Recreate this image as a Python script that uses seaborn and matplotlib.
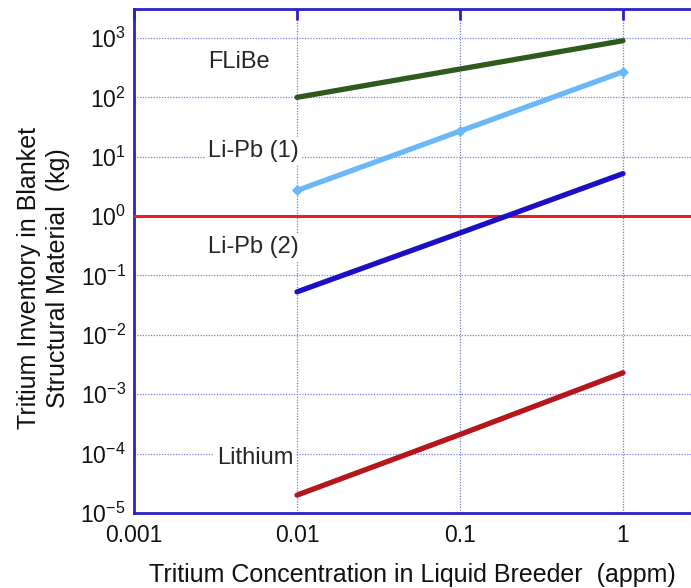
import numpy as np
import pandas as pd
import matplotlib
matplotlib.use("Agg")
import matplotlib.pyplot as plt
import matplotlib.ticker as mticker
import seaborn as sns

# Data
conc = [0.01, 0.1, 1.0]
flibe = [100, 300, 900]
lipb1 = [2.7, 27, 270]
lipb2 = [0.053, 0.52, 5.2]
lithium = [2.0e-5, 2.1e-4, 2.3e-3]
series_names = ["FLiBe", "Li-Pb (1)", "Li-Pb (2)", "Lithium"]
series_colors = ["#2e5a1c", "#6ab8f7", "#1c10c4", "#b4161b"]
x_ticks = [0.001, 0.01, 0.1, 1]
y_ticks = [1e-5, 1e-4, 1e-3, 1e-2, 1e-1, 1e0, 1e1, 1e2, 1e3]

df = pd.DataFrame({
    "x": conc * 4,
    "y": flibe + lipb1 + lipb2 + lithium,
    "series": sum([[n] * len(conc) for n in series_names], []),
})

sns.set_style("white")
plt.rcParams["font.family"] = ["Liberation Sans", "DejaVu Sans"]
plt.rcParams["axes.unicode_minus"] = False

fig = plt.figure(figsize=(6.91, 5.88), dpi=100)
ax = fig.add_axes([134 / 691, 1 - 513 / 588, 652 / 691, 504 / 588])

sns.lineplot(data=df, x="x", y="y", hue="series", palette=series_colors,
             hue_order=series_names, linewidth=3.8, legend=False, ax=ax,
             zorder=4)
# diamond markers on Li-Pb (1)
sub = df[df.series == "Li-Pb (1)"]
ax.scatter(sub.x, sub.y, marker="D", s=22, color="#6ab8f7", zorder=5)

ax.axhline(1.0, color="#ee1c24", linewidth=2.2, zorder=3)

ax.set_xscale("log")
ax.set_yscale("log")
ax.set_xlim(0.001, 10)
ax.set_ylim(1e-5, 10 ** 3.488)

ax.xaxis.set_major_locator(mticker.FixedLocator(x_ticks))
ax.xaxis.set_major_formatter(mticker.FuncFormatter(lambda v, p: f"{v:g}"))
ax.yaxis.set_major_locator(mticker.FixedLocator(y_ticks))
ax.yaxis.set_major_formatter(mticker.FuncFormatter(
    lambda v, p: r"$\mathdefault{10^{%d}}$" % int(round(np.log10(v)))))
ax.xaxis.set_minor_locator(mticker.NullLocator())
ax.yaxis.set_minor_locator(mticker.NullLocator())

spine_color = "#2a22c8"
for s in ax.spines.values():
    s.set_color(spine_color)
    s.set_linewidth(2)
ax.tick_params(axis="both", which="major", direction="in", length=8,
               width=2, color=spine_color, labelsize=16.5, top=True,
               labelcolor="#111111")
ax.tick_params(axis="x", pad=8)
ax.tick_params(axis="y", pad=6)

ax.grid(True, which="major", color="#7a7ae6", linestyle=(0, (1, 1.2)),
        linewidth=0.9)

ax.set_xlabel("Tritium Concentration in Liquid Breeder  (appm)", fontsize=18,
              color="#111111")
ax.xaxis.set_label_coords((412 - 134) / 652, -(563 - 513) / 504)
ax.set_ylabel("Tritium Inventory in Blanket\nStructural Material  (kg)",
              fontsize=18, color="#111111", linespacing=1.25)
ax.yaxis.set_label_coords(-(134 - 70) / 652, (513 - 278) / 504)

bbox = dict(facecolor="white", edgecolor="none", pad=2)
ax.text(0.00285, 395, "FLiBe", fontsize=17, ha="left", va="center", bbox=bbox, zorder=3)
ax.text(0.00285, 12.4, "Li-Pb (1)", fontsize=17, ha="left", va="center", bbox=bbox, zorder=3)
ax.text(0.00285, 0.30, "Li-Pb (2)", fontsize=17, ha="left", va="center", bbox=bbox, zorder=3)
ax.text(0.00323, 8.4e-5, "Lithium", fontsize=17, ha="left", va="center", bbox=bbox, zorder=3)

fig.savefig("out.png", dpi=100)
